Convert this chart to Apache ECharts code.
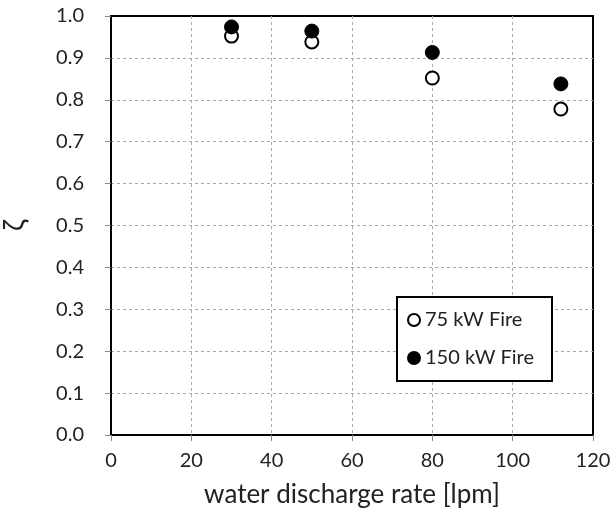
<!DOCTYPE html>
<html><head><meta charset="utf-8">
<script src="https://cdn.jsdelivr.net/npm/echarts@6/dist/echarts.min.js"></script>
<style>html,body{margin:0;padding:0;background:#fff}#c{width:613px;height:513px}</style>
</head><body><div id="c"></div>
<script>
const flowRates = [30, 50, 80, 112];
const zeta75 = [0.952, 0.938, 0.852, 0.778];
const zeta150 = [0.974, 0.964, 0.913, 0.838];
const seriesNames = ['75 kW Fire', '150 kW Fire'];
const xAxisTitle = 'water discharge rate [lpm]';
const yAxisTitle = 'ζ';

const FONT = 'Lato';
const chart = echarts.init(document.getElementById('c'));
chart.setOption({
  animation: false,
  backgroundColor: '#fff',
  grid: { left: 111, right: 20, top: 16, bottom: 78, containLabel: false, outerBoundsMode: 'none',
          show: true, borderColor: '#000', borderWidth: 2, backgroundColor: 'transparent' },
  xAxis: {
    type: 'value', min: 0, max: 120, interval: 20,
    name: xAxisTitle, nameLocation: 'middle', nameGap: 47,
    nameTextStyle: { fontFamily: FONT, fontSize: 26, color: '#222' },
    axisLine: { show: true, onZero: false, lineStyle: { color: '#000', width: 2 } },
    axisTick: { show: true, length: 6, lineStyle: { color: '#888' } },
    axisLabel: { fontFamily: FONT, fontSize: 20, color: '#222', margin: 16 },
    splitLine: { show: true, showMinLine: false, showMaxLine: false, lineStyle: { color: '#aaa', type: [3, 3], width: 1 } }
  },
  yAxis: {
    type: 'value', min: 0, max: 1, interval: 0.1,
    name: yAxisTitle, nameLocation: 'middle', nameGap: 82, nameRotate: 90,
    nameTextStyle: { fontFamily: FONT, fontSize: 28, color: '#222' },
    axisLine: { show: true, onZero: false, lineStyle: { color: '#000', width: 2 } },
    axisTick: { show: true, length: 6, lineStyle: { color: '#888' } },
    axisLabel: { fontFamily: FONT, fontSize: 20, color: '#222', margin: 27, formatter: v => v.toFixed(1) },
    splitLine: { show: true, showMinLine: false, showMaxLine: false, lineStyle: { color: '#aaa', type: [3, 3], width: 1 } }
  },
  legend: {
    orient: 'vertical', left: 397, top: 297,
    padding: [13, 18, 13, 10], itemGap: 18,
    backgroundColor: '#fff', borderColor: '#000', borderWidth: 2,
    itemWidth: 12, itemHeight: 12,
    textStyle: { fontFamily: FONT, fontSize: 20, color: '#222' },
    data: [
      { name: seriesNames[0], icon: 'circle' },
      { name: seriesNames[1], icon: 'circle' }
    ]
  },
  series: [
    {
      name: seriesNames[0], type: 'scatter', symbol: 'circle', symbolSize: 13,
      itemStyle: { color: '#fff', borderColor: '#000', borderWidth: 2, opacity: 1 },
      data: flowRates.map((x, i) => [x, zeta75[i]]), z: 3
    },
    {
      name: seriesNames[1], type: 'scatter', symbol: 'circle', symbolSize: 14,
      itemStyle: { color: '#000', borderColor: '#000', borderWidth: 1, opacity: 1 },
      data: flowRates.map((x, i) => [x, zeta150[i]]), z: 4
    }
  ]
});
</script></body></html>
